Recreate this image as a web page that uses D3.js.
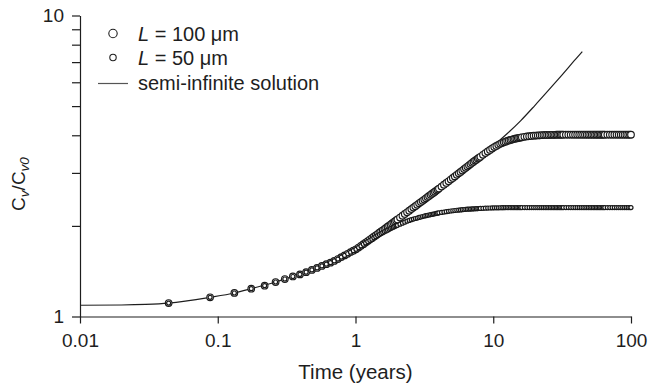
<!DOCTYPE html>
<html>
<head>
<meta charset="utf-8">
<script src="https://cdn.jsdelivr.net/npm/d3@7"></script>
<style>
  body { margin: 0; background: #fff; }
  svg { display: block; }
  text { font-family: "Liberation Sans", Arial, Helvetica, sans-serif; fill: #1e1e1e; }
</style>
</head>
<body>
<svg id="chart" width="648" height="385"></svg>
<script>
// Sampling times (years) shared by both finite-thickness series
const years = [
  0.044, 0.088, 0.132, 0.175, 0.219, 0.263, 0.307, 0.351, 0.395, 0.438, 0.482, 0.526,
  0.570, 0.614, 0.658, 0.701, 0.745, 0.789, 0.833, 0.877, 0.921, 0.964, 1.008,
  1.052, 1.096, 1.140, 1.184, 1.227, 1.271, 1.315, 1.359, 1.403, 1.447, 1.490, 1.534,
  1.578, 1.622, 1.666, 1.710, 1.753, 1.797, 1.841, 1.885, 1.929, 1.973, 2.016,
  2.104, 2.192, 2.279, 2.367, 2.455, 2.542, 2.630, 2.718, 2.805, 2.893, 2.981, 3.068,
  3.156, 3.244, 3.332, 3.419, 3.507, 3.595, 3.682, 3.770, 3.858, 3.945, 4.033,
  4.208, 4.384, 4.559, 4.734, 4.910, 5.085, 5.260, 5.436, 5.611, 5.786, 5.962, 6.137,
  6.312, 6.488, 6.663, 6.838, 7.014, 7.189, 7.364, 7.540, 7.715, 7.890, 8.066,
  8.416, 8.767, 9.118, 9.468, 9.819, 10.170, 10.521, 10.871, 11.222, 11.573, 11.923, 12.274,
  12.625, 12.975, 13.326, 13.677, 14.027, 14.378, 14.729, 15.079, 15.430, 15.781, 16.132,
  16.833, 17.534, 18.236, 18.937, 19.638, 20.340, 21.041, 21.742, 22.444, 23.145, 23.847, 24.548,
  25.249, 25.951, 26.652, 27.353, 28.055, 28.756, 29.458, 30.159, 30.860, 31.562, 32.263,
  33.666, 35.068, 36.471, 37.874, 39.277, 40.679, 42.082, 43.485, 44.888, 46.290, 47.693, 49.096,
  50.499, 51.901, 53.304, 54.707, 56.110, 57.512, 58.915, 60.318, 61.721, 63.123, 64.526,
  67.332, 70.137, 72.942, 75.748, 78.553, 81.359, 84.164, 86.970, 89.775, 92.581, 95.386, 98.192, 100.0
];

// Cv/Cv0 for L = 100 um
const ratioL100 = [
  1.108, 1.158, 1.197, 1.237, 1.266, 1.302, 1.332, 1.358, 1.380, 1.404, 1.428, 1.450,
  1.472, 1.492, 1.510, 1.530, 1.552, 1.575, 1.596, 1.616, 1.636, 1.654, 1.672,
  1.694, 1.717, 1.739, 1.760, 1.780, 1.801, 1.821, 1.841, 1.860, 1.879, 1.898, 1.916,
  1.934, 1.951, 1.969, 1.987, 2.004, 2.021, 2.038, 2.054, 2.070, 2.086, 2.101,
  2.132, 2.162, 2.191, 2.219, 2.247, 2.274, 2.300, 2.326, 2.351, 2.376, 2.400, 2.424,
  2.447, 2.470, 2.493, 2.515, 2.537, 2.558, 2.579, 2.599, 2.620, 2.640, 2.660,
  2.701, 2.740, 2.777, 2.814, 2.850, 2.885, 2.921, 2.956, 2.989, 3.023, 3.055, 3.088,
  3.119, 3.150, 3.180, 3.210, 3.240, 3.268, 3.297, 3.319, 3.346, 3.369, 3.392,
  3.445, 3.492, 3.535, 3.577, 3.618, 3.655, 3.686, 3.717, 3.746, 3.768, 3.789, 3.810,
  3.830, 3.844, 3.859, 3.872, 3.885, 3.896, 3.905, 3.914, 3.923, 3.932, 3.939,
  3.953, 3.963, 3.973, 3.980, 3.987, 3.993, 3.996, 4.000, 4.004, 4.007, 4.009, 4.011,
  4.012, 4.013, 4.014, 4.015, 4.016, 4.017, 4.018, 4.019, 4.020, 4.020, 4.020,
  4.020, 4.020, 4.020, 4.020, 4.020, 4.020, 4.020, 4.020, 4.020, 4.020, 4.020, 4.020,
  4.020, 4.020, 4.020, 4.020, 4.020, 4.020, 4.020, 4.020, 4.020, 4.020, 4.020,
  4.020, 4.020, 4.020, 4.020, 4.020, 4.020, 4.020, 4.020, 4.020, 4.020, 4.020, 4.020, 4.020
];

// Cv/Cv0 for L = 50 um
const ratioL50 = [
  1.108, 1.158, 1.197, 1.237, 1.266, 1.302, 1.332, 1.358, 1.380, 1.404, 1.428, 1.450,
  1.472, 1.492, 1.510, 1.530, 1.552, 1.575, 1.596, 1.616, 1.636, 1.654, 1.672,
  1.694, 1.716, 1.738, 1.756, 1.774, 1.791, 1.807, 1.825, 1.841, 1.857, 1.871, 1.886,
  1.899, 1.912, 1.924, 1.936, 1.948, 1.959, 1.970, 1.981, 1.992, 2.002, 2.009,
  2.026, 2.042, 2.058, 2.073, 2.085, 2.097, 2.107, 2.116, 2.124, 2.133, 2.141, 2.149,
  2.157, 2.163, 2.169, 2.174, 2.180, 2.185, 2.190, 2.195, 2.200, 2.205, 2.210,
  2.217, 2.223, 2.229, 2.235, 2.241, 2.246, 2.250, 2.254, 2.257, 2.260, 2.264, 2.267,
  2.270, 2.272, 2.274, 2.275, 2.277, 2.279, 2.280, 2.282, 2.283, 2.285, 2.286,
  2.288, 2.290, 2.292, 2.293, 2.295, 2.296, 2.297, 2.297, 2.298, 2.299, 2.299, 2.300,
  2.300, 2.300, 2.300, 2.300, 2.300, 2.300, 2.300, 2.300, 2.300, 2.300, 2.300,
  2.300, 2.300, 2.300, 2.300, 2.300, 2.300, 2.300, 2.300, 2.300, 2.300, 2.300, 2.300,
  2.300, 2.300, 2.300, 2.300, 2.300, 2.300, 2.300, 2.300, 2.300, 2.300, 2.300,
  2.300, 2.300, 2.300, 2.300, 2.300, 2.300, 2.300, 2.300, 2.300, 2.300, 2.300, 2.300,
  2.300, 2.300, 2.300, 2.300, 2.300, 2.300, 2.300, 2.300, 2.300, 2.300, 2.300,
  2.300, 2.300, 2.300, 2.300, 2.300, 2.300, 2.300, 2.300, 2.300, 2.300, 2.300, 2.300, 2.300
];

// Semi-infinite solution
const semiYears = [0.01, 0.02, 0.03, 0.044, 0.088, 0.132, 0.175, 0.263, 0.351, 0.5, 0.658, 0.789,
  1.0, 1.26, 1.585, 2.0, 2.512, 3.162, 3.981, 5.012, 6.31, 7.943, 10, 12.59, 15.85, 19.95,
  25.12, 31.62, 39.81, 44.3];
const semiRatio = [1.090, 1.092, 1.097, 1.108, 1.158, 1.197, 1.237, 1.302, 1.360, 1.432, 1.508, 1.575,
  1.667, 1.795, 1.936, 2.094, 2.265, 2.449, 2.649, 2.871, 3.119, 3.388, 3.690, 4.046, 4.477, 5.012,
  5.636, 6.353, 7.178, 7.586];

const xTickValues = [0.01, 0.1, 1, 10, 100];
const xTickLabels = ["0.01", "0.1", "1", "10", "100"];
const yTickValues = [1, 2, 3, 4, 5, 6, 7, 8, 9, 10];
const yTickLabels = ["1", "", "", "", "", "", "", "", "", "10"];

const svg = d3.select("#chart");
const x = d3.scaleLog().domain([0.01, 100]).range([80, 631]);
const y = d3.scaleLog().domain([1, 10]).range([316.5, 15.5]);

const ink = "#1e1e1e";
const font = "'Liberation Sans', Arial, sans-serif";

// x axis
const gx = svg.append("g").attr("transform", "translate(0,316.5)")
  .call(d3.axisBottom(x).tickValues(xTickValues)
    .tickFormat((d, i) => xTickLabels[i]).tickSize(7).tickSizeOuter(0).tickPadding(10));
gx.select(".domain").attr("stroke", ink).attr("stroke-width", 1.2);
gx.selectAll(".tick line").attr("stroke", ink).attr("stroke-width", 1.2);
gx.selectAll(".tick text").attr("font-size", 19).attr("fill", ink).attr("font-family", font);

// y axis
const gy = svg.append("g").attr("transform", "translate(80,0)")
  .call(d3.axisLeft(y).tickValues(yTickValues)
    .tickFormat((d, i) => yTickLabels[i]).tickSize(8).tickSizeOuter(0).tickPadding(8));
gy.select(".domain").attr("stroke", ink).attr("stroke-width", 1.2);
gy.selectAll(".tick line").attr("stroke", ink).attr("stroke-width", 1.2);
gy.selectAll(".tick text").attr("font-size", 19).attr("fill", ink).attr("font-family", font);

// axis titles
svg.append("text").attr("x", 355.5).attr("y", 379).attr("text-anchor", "middle")
  .attr("font-size", 20.5).text("Time (years)");

const yt = svg.append("text").attr("transform", "translate(25,184) rotate(-90)")
  .attr("text-anchor", "middle").attr("font-size", 19);
yt.append("tspan").text("C");
yt.append("tspan").attr("font-size", 13.5).attr("font-style", "italic").attr("dy", 4).text("v");
yt.append("tspan").attr("dy", -4).text("/C");
yt.append("tspan").attr("font-size", 13.5).attr("font-style", "italic").attr("dy", 4).text("v0");

// semi-infinite solution curve
const line = d3.line().x(d => x(d[0])).y(d => y(d[1])).curve(d3.curveMonotoneX);
svg.append("path").datum(d3.zip(semiYears, semiRatio))
  .attr("d", line).attr("fill", "none").attr("stroke", ink).attr("stroke-width", 1.2);

// finite-thickness series as open markers
const series = [
  { key: "L100", values: ratioL100, r: 3.3, w: 1.15 },
  { key: "L50", values: ratioL50, r: 2.0, w: 1.2 }
];
series.forEach(s => {
  svg.append("g").attr("class", "series-" + s.key)
    .selectAll("circle").data(years.map((t, i) => [t, s.values[i]]))
    .join("circle")
    .attr("cx", d => x(d[0])).attr("cy", d => y(d[1])).attr("r", s.r)
    .attr("fill", "#fff").attr("stroke", "#1a1a1a").attr("stroke-width", s.w);
});

// legend
const lg = svg.append("g");
lg.append("circle").attr("cx", 113).attr("cy", 33.5).attr("r", 4.2)
  .attr("fill", "#fff").attr("stroke", ink).attr("stroke-width", 1.1);
lg.append("circle").attr("cx", 113).attr("cy", 57.5).attr("r", 3.2)
  .attr("fill", "#fff").attr("stroke", ink).attr("stroke-width", 1.1);
lg.append("line").attr("x1", 98).attr("x2", 128).attr("y1", 83.5).attr("y2", 83.5)
  .attr("stroke", "#555").attr("stroke-width", 1.2);

const t1 = lg.append("text").attr("x", 138).attr("y", 40.5).attr("font-size", 20);
t1.append("tspan").attr("font-style", "italic").text("L");
t1.append("tspan").text(" = 100 \u03bcm");
const t2 = lg.append("text").attr("x", 138).attr("y", 64.5).attr("font-size", 20);
t2.append("tspan").attr("font-style", "italic").text("L");
t2.append("tspan").text(" = 50 \u03bcm");
lg.append("text").attr("x", 138).attr("y", 90).attr("font-size", 20)
  .text("semi-infinite solution");
</script>
</body>
</html>
